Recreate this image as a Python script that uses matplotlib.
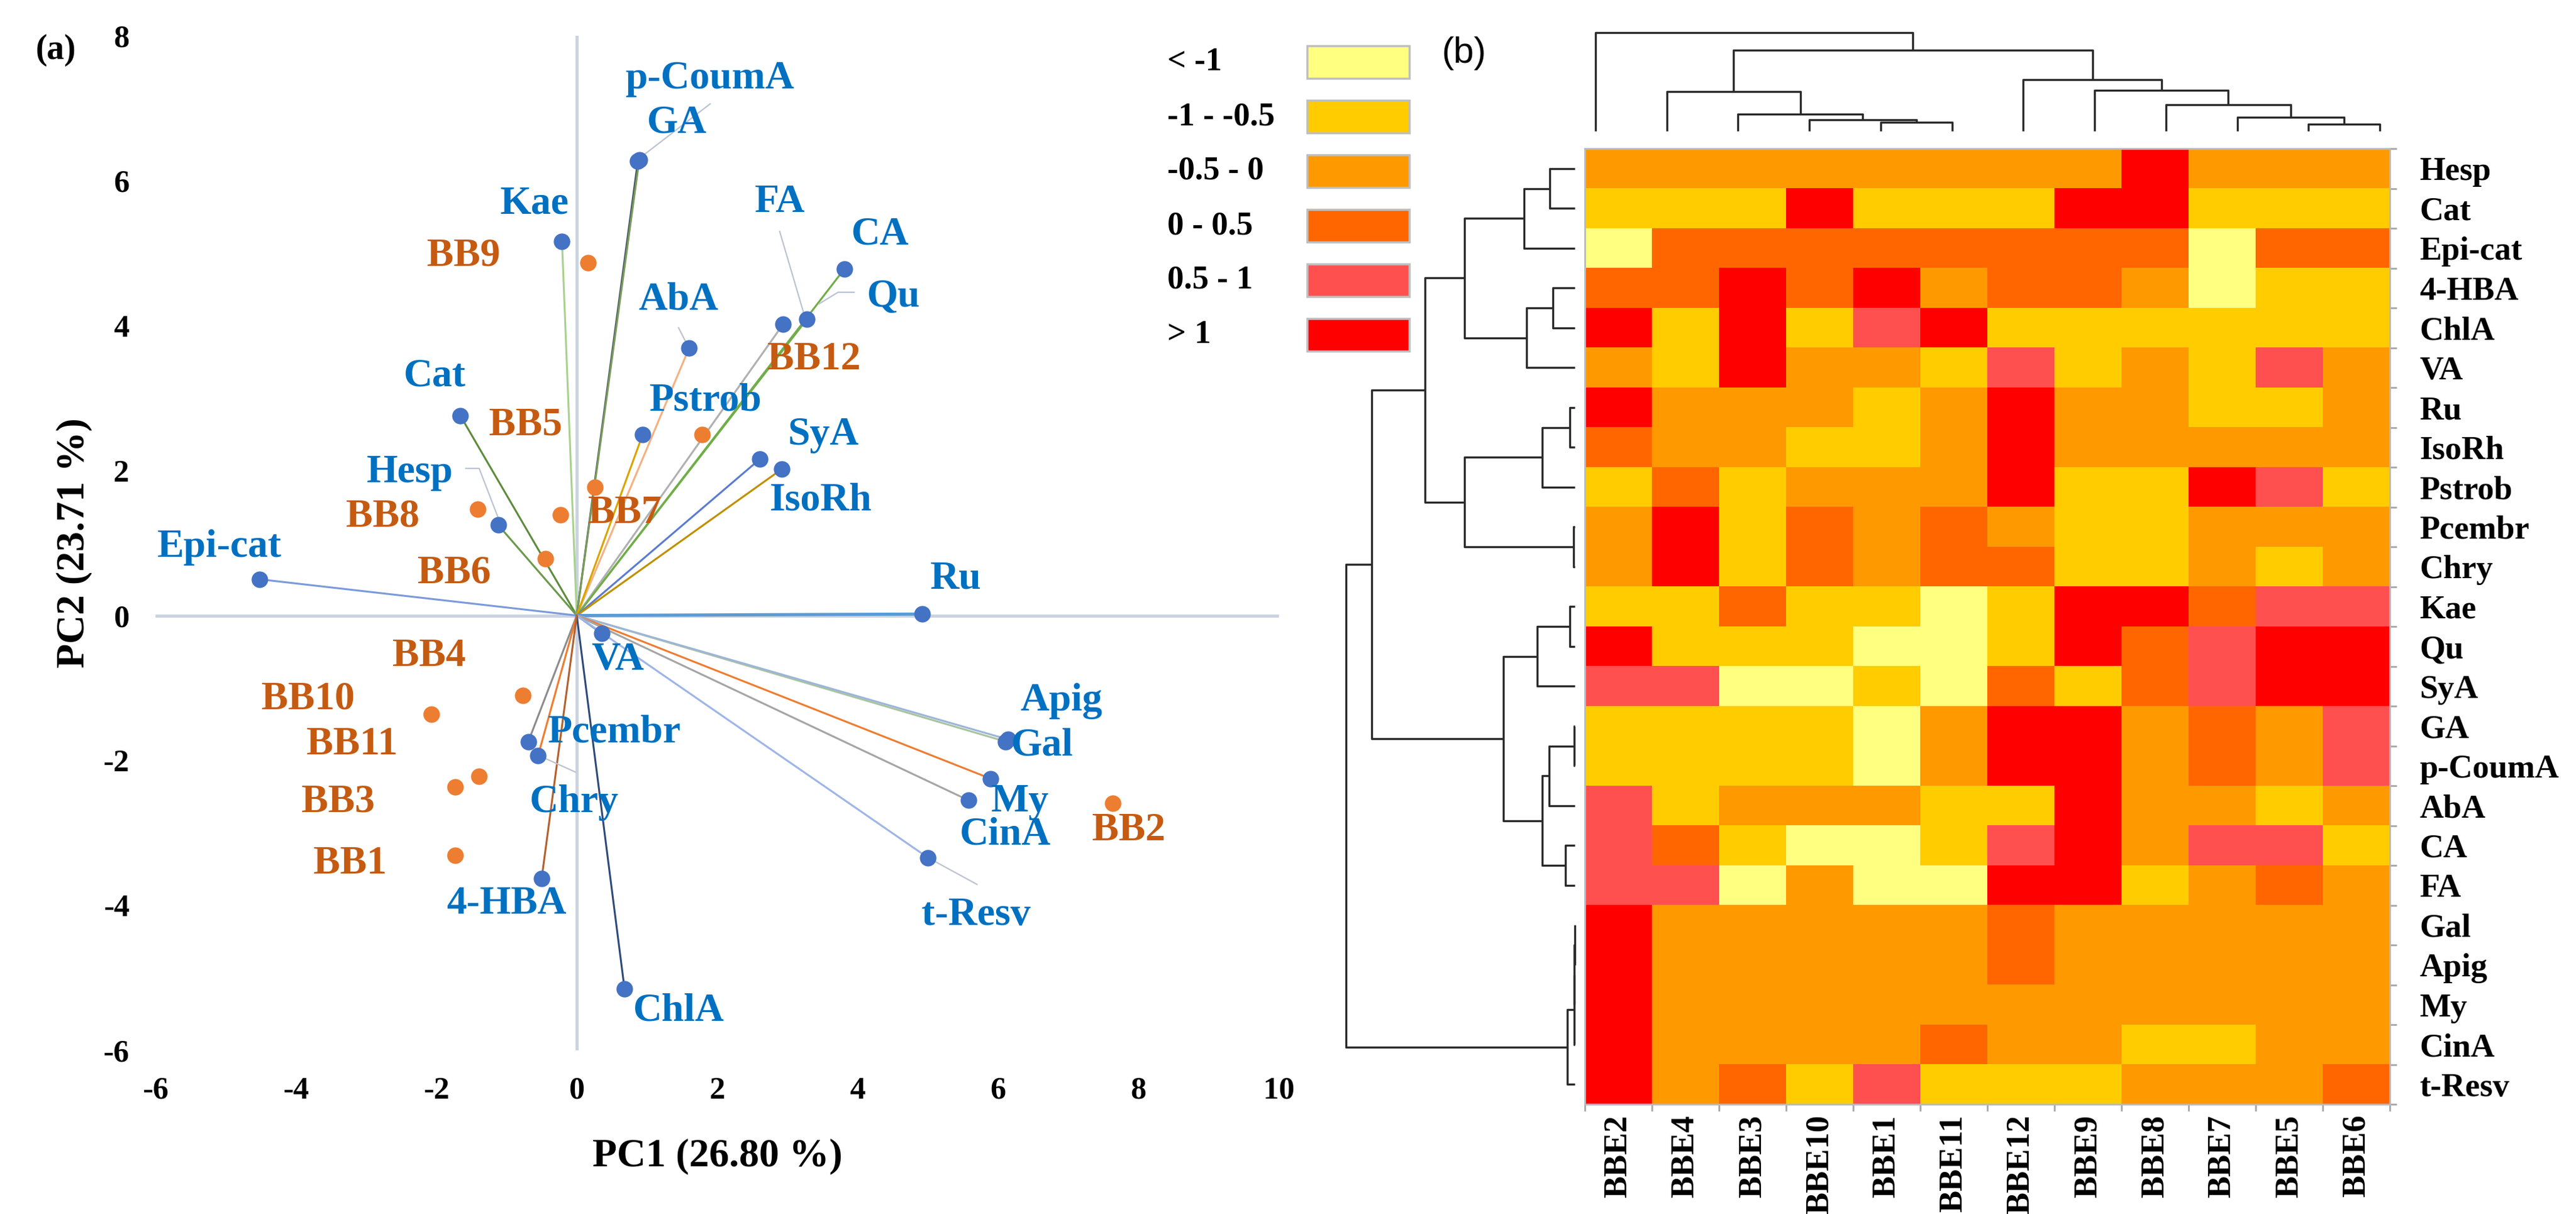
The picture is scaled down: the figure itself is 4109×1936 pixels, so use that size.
import matplotlib
matplotlib.use("Agg")
import matplotlib.pyplot as plt
from matplotlib.colors import ListedColormap
from matplotlib.patches import Rectangle

W, H = 4109, 1936
SERIF = "Liberation Serif"
plt.rcParams["axes.unicode_minus"] = False

# ---------------- (a) PCA biplot ----------------
VAR_NAMES = ["Epi-cat", "Cat", "Hesp", "Kae", "GA", "p-CoumA", "AbA", "FA", "Qu", "CA",
             "Pstrob", "SyA", "IsoRh", "Ru", "VA", "Gal", "Apig", "My", "CinA", "t-Resv",
             "ChlA", "Pcembr", "Chry", "4-HBA"]
VAR_PC1 = [-4.52, -1.66, -1.12, -0.21, 0.87, 0.89, 1.60, 3.28, 2.94, 3.81,
           0.94, 2.61, 2.92, 4.92, 0.36, 6.11, 6.14, 5.89, 5.58, 5.00,
           0.68, -0.69, -0.55, -0.50]
VAR_PC2 = [0.50, 2.76, 1.25, 5.16, 6.27, 6.29, 3.69, 4.09, 4.02, 4.78,
           2.50, 2.16, 2.02, 0.02, -0.25, -1.74, -1.71, -2.25, -2.55, -3.34,
           -5.15, -1.74, -1.93, -3.63]

SAMPLE_NAMES = ["BB1", "BB2", "BB3", "BB4", "BB5", "BB6", "BB7", "BB8", "BB9", "BB10", "BB11", "BB12"]
SAMPLE_PC1 = [-1.73, 7.63, -1.73, -0.77, 0.26, -0.45, -0.23, -1.41, 0.16, -2.07, -1.39, 1.79]
SAMPLE_PC2 = [-3.31, -2.59, -2.37, -1.10, 1.77, 0.78, 1.39, 1.47, 4.87, -1.36, -2.22, 2.50]

# line colour of each loading vector
VEC_COLORS = {
    "Epi-cat": "#7A9ADC", "Cat": "#5E8B3E", "Hesp": "#6A9A4A", "Kae": "#A9D18E",
    "GA": "#44546A", "p-CoumA": "#7A9A5A", "AbA": "#F4B183", "FA": "#70AD47",
    "Qu": "#B0B0B0", "CA": "#70AD47", "Pstrob": "#D9A400", "SyA": "#5A7BD0",
    "IsoRh": "#BF9000", "Ru": "#5B9BD5", "VA": "#4472C4", "Gal": "#A9C4A0",
    "Apig": "#9DB5D8", "My": "#ED7D31", "CinA": "#A5A5A5", "t-Resv": "#9DB5E8",
    "ChlA": "#2F4A7A", "Pcembr": "#8C8C8C", "Chry": "#ED7D31", "4-HBA": "#B4602E",
}

# label placement (text centres, data units)
LABEL_POS = {
    "Epi-cat": (-5.09, 0.94), "Cat": (-2.02, 3.30), "Hesp": (-2.38, 1.97), "Kae": (-0.60, 5.68),
    "GA": (1.43, 6.79), "p-CoumA": (1.89, 7.40), "AbA": (1.45, 4.35), "FA": (2.89, 5.70),
    "Qu": (4.51, 4.39), "CA": (4.32, 5.25), "Pstrob": (1.84, 2.96), "SyA": (3.51, 2.49),
    "IsoRh": (3.48, 1.58), "Ru": (5.40, 0.50), "VA": (0.58, -0.61), "Gal": (6.63, -1.80),
    "Apig": (6.90, -1.18), "My": (6.31, -2.57), "CinA": (6.10, -3.03), "t-Resv": (5.69, -4.14),
    "ChlA": (1.45, -5.46), "Pcembr": (0.54, -1.62), "Chry": (-0.04, -2.58), "4-HBA": (-1.00, -3.98),
    "BB1": (-3.23, -3.43), "BB2": (7.86, -2.97), "BB3": (-3.40, -2.58), "BB4": (-2.10, -0.57),
    "BB5": (-0.73, 2.62), "BB6": (-1.75, 0.58), "BB7": (0.68, 1.41), "BB8": (-2.76, 1.36),
    "BB9": (-1.61, 4.96), "BB10": (-3.83, -1.16), "BB11": (-3.20, -1.79), "BB12": (3.38, 3.53),
}
LEADERS = {
    "Hesp": [(-1.58, 2.03), (-1.39, 2.03), (-1.12, 1.35)],
    "p-CoumA": [(1.90, 7.06), (0.92, 6.33)],
    "AbA": [(1.45, 3.97), (1.55, 3.78)],
    "FA": [(2.89, 5.30), (3.23, 4.18)],
    "Qu": [(3.95, 4.46), (3.72, 4.46), (3.45, 4.30)],
    "Chry": [(-0.02, -2.16), (-0.50, -1.95)],
    "t-Resv": [(5.00, -3.34), (5.70, -3.71)],
}

# ---------------- (b) heat map ----------------
HEAT_COLS = ["BBE2", "BBE4", "BBE3", "BBE10", "BBE1", "BBE11", "BBE12", "BBE9", "BBE8", "BBE7", "BBE5", "BBE6"]
HEAT_ROWS = ["Hesp", "Cat", "Epi-cat", "4-HBA", "ChlA", "VA", "Ru", "IsoRh", "Pstrob", "Pcembr",
             "Chry", "Kae", "Qu", "SyA", "GA", "p-CoumA", "AbA", "CA", "FA", "Gal", "Apig", "My",
             "CinA", "t-Resv"]
# Y: < -1, G: -1 - -0.5, O: -0.5 - 0, D: 0 - 0.5, P: 0.5 - 1, R: > 1
HEAT_GRID = [
    "OOOOOOOOROOO",
    "GGGRGGGRRGGG",
    "YDDDDDDDDYDD",
    "DDRDRODDOYGG",
    "RGRGPRGGGGGG",
    "OGROOGPGOGPO",
    "ROOOGOROOGGO",
    "DOOGGOROOOOO",
    "GDGOOORGGRPG",
    "ORGDODOGGOOO",
    "ORGDODDGGOGO",
    "GGDGGYGRRDPP",
    "RGGGYYGRDPRR",
    "PPYYGYDGDPRR",
    "GGGGYORRODOP",
    "GGGGYORRODOP",
    "PGOOOGGROOGO",
    "PDGYYGPROPPG",
    "PPYOYYRRGODO",
    "ROOOOODOOOOO",
    "ROOOOODOOOOO",
    "ROOOOOOOOOOO",
    "ROOOODOOGGOO",
    "RODGPGGGOOOD",
]
CAT_CODES = "YGODPR"
CAT_LABELS = ["< -1", "-1 - -0.5", "-0.5 - 0", "0 - 0.5", "0.5 - 1", "> 1"]
CAT_COLORS = ["#FFFF80", "#FFCC00", "#FF9900", "#FF6600", "#FF5050", "#FF0000"]

# dendrogram merges (scipy style: leaf ids 0..n-1, new node ids n, n+1, ...), height
COL_MERGES = [(4, 5, 14), (3, 12, 18), (2, 13, 27), (1, 14, 62), (10, 11, 11), (9, 16, 22),
              (8, 17, 41), (7, 18, 64), (6, 19, 81), (15, 20, 127), (0, 21, 155)]
ROW_MERGES = [(0, 1, 40), (24, 2, 81), (3, 4, 35), (26, 5, 77), (25, 27, 176), (6, 7, 8),
              (29, 8, 52), (9, 10, 2), (30, 31, 176), (28, 32, 239), (11, 12, 8), (34, 13, 60),
              (14, 15, 1), (36, 16, 41), (17, 18, 15), (37, 38, 52), (35, 39, 114), (33, 40, 324),
              (19, 20, 0.5), (42, 21, 0.8), (43, 22, 1.2), (44, 23, 12), (41, 45, 365)]


def px_axes(fig, x0, y0, x1, y1):
    return fig.add_axes([x0 / W, 1 - y1 / H, (x1 - x0) / W, (y1 - y0) / H])


def draw_dendro(ax, merges, n, orient):
    pos = list(range(n))
    hgt = [0.0] * n
    for a, b, h in merges:
        pa, pb, ha, hb = pos[a], pos[b], hgt[a], hgt[b]
        if orient == "top":
            xs, ys = [pa, pa, pb, pb], [ha, h, h, hb]
        else:
            xs, ys = [ha, h, h, hb], [pa, pa, pb, pb]
        ax.plot(xs, ys, color="#2B2B2B", lw=2.4, clip_on=False, solid_capstyle="butt")
        pos.append((pa + pb) / 2)
        hgt.append(h)
    ax.axis("off")


fig = plt.figure(figsize=(W / 100, H / 100), dpi=100)

# ---- biplot ----
ax = px_axes(fig, 248, 57, 2040, 1675)
ax.set_xlim(-6, 10)
ax.set_ylim(-6, 8)
for s in ax.spines.values():
    s.set_visible(False)
ax.plot([-6, 10], [0, 0], color="#C9D3E3", lw=3.6, zorder=1)
ax.plot([0, 0], [-6, 8], color="#C9D3E3", lw=3.6, zorder=1)

for name, x, y in zip(VAR_NAMES, VAR_PC1, VAR_PC2):
    lw = 3.6 if name == "Ru" else 2.2
    ax.plot([0, x], [0, y], color=VEC_COLORS[name], lw=lw, zorder=2)
for name, pts in LEADERS.items():
    ax.plot([p[0] for p in pts], [p[1] for p in pts], color="#BCC4D2", lw=1.6, zorder=2)

ax.scatter(VAR_PC1, VAR_PC2, s=360, color="#4472C4", zorder=4, linewidths=0)
ax.scatter(SAMPLE_PC1, SAMPLE_PC2, s=360, color="#ED7D31", zorder=4, linewidths=0)

for name in VAR_NAMES:
    tx, ty = LABEL_POS[name]
    ax.text(tx, ty, name, color="#0070C0", fontsize=46, fontweight="bold", family=SERIF,
            ha="center", va="center", zorder=5)
for name in SAMPLE_NAMES:
    tx, ty = LABEL_POS[name]
    ax.text(tx, ty, name, color="#C55A11", fontsize=46, fontweight="bold", family=SERIF,
            ha="center", va="center", zorder=5)

ax.set_xticks(range(-6, 11, 2))
ax.set_yticks(range(-6, 9, 2))
ax.tick_params(length=0, pad=30)
for lab in ax.get_xticklabels() + ax.get_yticklabels():
    lab.set_fontfamily(SERIF)
    lab.set_fontweight("bold")
    lab.set_fontsize(36)
ax.set_xlabel("PC1 (26.80 %)", fontsize=46, fontweight="bold", family=SERIF, labelpad=38)
ax.set_ylabel("PC2 (23.71 %)", fontsize=46, fontweight="bold", family=SERIF, labelpad=12)
fig.text(89 / W, 1 - 80 / H, "(a)", fontsize=40, fontweight="bold", family=SERIF,
         ha="center", va="center")

# ---- legend ----
lg = px_axes(fig, 1850, 60, 2260, 570)
lg.set_xlim(1850, 2260)
lg.set_ylim(570, 60)
lg.axis("off")
for i, (lab, col) in enumerate(zip(CAT_LABELS, CAT_COLORS)):
    top = 73 + 87 * i
    lg.add_patch(Rectangle((2085, top), 163, 52, facecolor=col, edgecolor="#BFBFBF", lw=2.5))
    lg.text(1862, top + 26, lab, fontsize=38, fontweight="bold", family=SERIF,
            ha="left", va="center")
fig.text(2335 / W, 1 - 85 / H, "(b)", fontsize=42, family="Liberation Sans",
         ha="center", va="center")

# ---- heat map ----
hm = px_axes(fig, 2528, 237, 3812, 1761)
codes = [[CAT_CODES.index(c) for c in row] for row in HEAT_GRID]
hm.imshow(codes, cmap=ListedColormap(CAT_COLORS), vmin=-0.5, vmax=5.5, aspect="auto",
          interpolation="nearest")
hm.set_xticks(range(len(HEAT_COLS)))
hm.set_xticklabels(HEAT_COLS, rotation=90)
hm.yaxis.tick_right()
hm.set_yticks(range(len(HEAT_ROWS)))
hm.set_yticklabels(HEAT_ROWS)
hm.set_xticks([i - 0.5 for i in range(len(HEAT_COLS) + 1)], minor=True)
hm.set_yticks([i - 0.5 for i in range(len(HEAT_ROWS) + 1)], minor=True)
hm.tick_params(which="major", length=0)
hm.tick_params(axis="x", which="major", pad=12)
hm.tick_params(axis="y", which="major", pad=34)
hm.tick_params(which="minor", length=8, width=2, color="#A8A8A8")
for lab in hm.get_xticklabels() + hm.get_yticklabels():
    lab.set_fontfamily(SERIF)
    lab.set_fontweight("bold")
    lab.set_fontsize(38)
for s in hm.spines.values():
    s.set_color("#B4BAC6")
    s.set_linewidth(2)

# ---- dendrograms ----
top = px_axes(fig, 2545, 52, 3796, 209)
top.set_xlim(0, len(HEAT_COLS) - 1)
top.set_ylim(0, 155)
draw_dendro(top, COL_MERGES, len(HEAT_COLS), "top")

left = px_axes(fig, 2147, 237, 2512, 1761)
left.set_xlim(365, 0)
left.set_ylim(len(HEAT_ROWS) - 0.5, -0.5)
draw_dendro(left, ROW_MERGES, len(HEAT_ROWS), "left")

fig.savefig("out.png", dpi=100)
